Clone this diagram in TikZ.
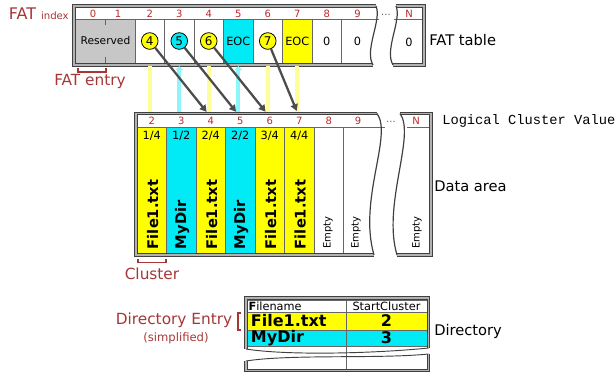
\documentclass[tikz,border=0pt]{standalone}
\usepackage{fontspec}
\setmainfont{DejaVu Sans}
\newfontfamily\monofont{Liberation Mono}
\usetikzlibrary{arrows.meta, positioning, calc}
\definecolor{fatYellow}{RGB}{255,255,0}
\definecolor{fatCyan}{RGB}{0,235,245}
\definecolor{lblRed}{RGB}{165,55,55}
\definecolor{idxRed}{RGB}{190,40,40}
\tikzset{
    >=Stealth,
    % Frames
    frame/.style={draw=black!75, line width=0.55pt, double=black!30, double distance=1.4pt},
    wavy/.style={draw=black!75, line width=0.9pt},
    sep/.style={draw=black!60, line width=0.5pt},
    % Cells
    fatres/.style={rectangle, inner sep=0pt, fill=black!22, minimum width=44.25pt, minimum height=33pt,
                   font=\fontsize{8}{8}\selectfont},
    fatcell/.style={rectangle, inner sep=0pt, minimum width=22.1pt, minimum height=33pt, sep},
    datacell/.style={rectangle, inner sep=0pt, minimum width=22.1pt, minimum height=94.5pt, sep},
    dirname/.style={rectangle, inner sep=0pt, minimum width=74.25pt, sep},
    dirstart/.style={rectangle, inner sep=0pt, minimum width=60.75pt, sep},
    hdr/.style={inner sep=0pt, text=idxRed, font=\fontsize{7.5}{7.5}\selectfont},
    ptr/.style={circle, draw=black, line width=0.6pt, inner sep=0pt, minimum size=12.5pt,
                font=\fontsize{9}{9}\selectfont},
    val/.style={inner sep=0pt, font=\fontsize{8.5}{8.5}\selectfont},
    frac/.style={inner sep=0pt, font=\fontsize{8.5}{8.5}\selectfont},
    ftext/.style={rotate=90, anchor=west, inner sep=0pt, font=\bfseries\fontsize{11}{11}\selectfont},
    etext/.style={rotate=90, anchor=west, inner sep=0pt, font=\fontsize{7.5}{7.5}\selectfont},
    dtext/.style={inner sep=0pt, font=\bfseries\fontsize{12}{12}\selectfont},
    % Labels
    lbl/.style={inner sep=0pt, font=\fontsize{11}{11}\selectfont},
    redlbl/.style={inner sep=0pt, text=lblRed, font=\fontsize{11.5}{11.5}\selectfont},
    brk/.style={draw=lblRed, line width=0.8pt},
    % Flow
    link/.style={draw=black!70, line width=1.7pt, -{Triangle[length=5pt,width=5.5pt]}, shorten >=5pt},
    trace/.style={line width=3pt, shorten <=2pt, shorten >=3.5pt}
}

\begin{document}
\begin{tikzpicture}[x=0.75pt, y=-0.75pt]
\useasboundingbox (0,0) rectangle (616,378);

% FAT table cells
\node[fatres] (res) at (105.5,41) {Reserved};
\draw[sep] (res.north) -- ++(0,6);
\draw[sep] (res.south) -- ++(0,-6);
\foreach \i/\cc in {2/white,3/white,4/white,5/fatCyan,6/white,7/fatYellow,8/white}
  \node[fatcell, fill=\cc] (fb\i) at ({149.75+29.5*(\i-2)},41) {};

% FAT header
\node[hdr] (fh0) at (93,13.5) {0};
\node[hdr] (fh1) at (118,13.5) {1};
\foreach \i in {2,...,8}
  \node[hdr] (fh\i) at (fb\i |- 0,13.5) {\i};
\node[hdr] (fh9) at (357.5,13.5) {9};
\node[hdr, text=black!60] (fdots) at (386,15) {...};
\node[hdr] (fhN) at (409,13.5) {N};
\draw[sep] (76,19) -- (379,19);
\draw[sep] (394,19) -- (422,19);

% FAT entries
\foreach \i/\n/\cc in {2/4/fatYellow,3/5/fatCyan,4/6/fatYellow,6/7/fatYellow}
  \node[ptr, fill=\cc] (c\n) at (fb\i) {\n};
\node[val] (eoc5) at (fb5) {EOC};
\node[val] (eoc7) at (fb7) {EOC};
\node[val] (z8) at (fb8) {0};
\node[val] (z9) at (357.5,41) {0};
\node[val] (zN) at (409,42) {0};

% FAT frame
\draw[frame] (376,6) -- (74,6) -- (74,65) -- (373,65);
\draw[wavy] (373,65) .. controls (364,50) and (382,20) .. (376,6);
\draw[frame] (396,6) -- (424,6) -- (424,65) -- (393,65);
\draw[wavy] (393,65) .. controls (384,50) and (402,20) .. (396,6);

% Data area cells
\foreach \i/\cc in {2/fatYellow,3/fatCyan,4/fatYellow,5/fatCyan,6/fatYellow,7/fatYellow,8/white}
  \node[datacell, fill=\cc] (db\i) at ({151.75+29.5*(\i-2)},190) {};

% Data header
\foreach \i in {2,...,8}
  \node[hdr] (dh\i) at (db\i |- 0,121) {\i};
\node[hdr] (dh9) at (358,121) {9};
\node[hdr, text=black!60] (ddots) at (391,122) {...};
\node[hdr] (dhN) at (416,121) {N};
\draw[sep] (138,127) -- (385,127);
\draw[sep] (407,127) -- (429,127);

% Data contents
\foreach \i/\f in {2/{1/4},3/{1/2},4/{2/4},5/{2/2},6/{3/4},7/{4/4}}
  \node[frac] (fr\i) at (db\i |- 0,136) {\f};
\foreach \i in {2,4,6,7}
  \node[ftext] (ft\i) at ($(db\i.south)+(1,-4)$) {File1.txt};
\foreach \i in {3,5}
  \node[ftext] (ft\i) at ($(db\i.south)+(1,-4)$) {MyDir};
\node[etext] (e8) at (328,249) {Empty};
\node[etext] (e9) at (356,249) {Empty};
\node[etext] (eN) at (417,249) {Empty};

% Data frame
\draw[frame] (377,113.5) -- (136,113.5) -- (136,255) -- (374,255);
\draw[wavy] (374,255) .. controls (358,200) and (393,135) .. (377,113.5);
\draw[frame] (400,113.5) -- (431,113.5) -- (431,255) -- (397,255);
\draw[wavy] (397,255) .. controls (382,205) and (416,135) .. (400,113.5);

% Cluster traces and pointers
\foreach \i/\cc in {2/fatYellow,4/fatYellow,6/fatYellow,7/fatYellow}
  \draw[trace, draw=\cc!40] (fb\i.south) -- (fb\i.south |- dh\i.north);
\foreach \i in {3,5}
  \draw[trace, draw=fatCyan!45, {Triangle[length=3pt,width=5.5pt]}-] (fb\i.south) -- (fb\i.south |- dh\i.north);
\foreach \n in {4,5,6,7}
  \draw[link] (c\n) -- (dh\n.north);

% Directory table
\node[dirname, fill=white, minimum height=9pt] (hname) at (296.5,306) {};
\node[dirstart, fill=white, minimum height=9pt] (hstart) at (386.5,306) {};
\node[dirname, fill=fatYellow, minimum height=13.5pt] (name1) at (296.5,321) {};
\node[dirstart, fill=fatYellow, minimum height=13.5pt] (start1) at (386.5,321) {};
\node[dirname, fill=fatCyan, minimum height=12pt] (name2) at (296.5,338) {};
\node[dirstart, fill=fatCyan, minimum height=12pt] (start2) at (386.5,338) {};
\node[inner sep=0pt, anchor=west, font=\fontsize{8.5}{8.5}\selectfont] (tname) at ([xshift=1.2pt]hname.west) {\textbf{F}ilename};
\node[inner sep=0pt, font=\fontsize{8.5}{8.5}\selectfont] (tstart) at (hstart) {StartCluster};
\node[dtext, anchor=west] (n1) at ([xshift=3pt]name1.west) {File1.txt};
\node[dtext, anchor=west] (n2) at ([xshift=3pt]name2.west) {MyDir};
\node[dtext] (s1) at (start1) {2};
\node[dtext] (s2) at (start2) {3};
\draw[sep] (346,344) -- (346,369);
\draw[frame] (246,349) -- (246,298) -- (428.5,298) -- (428.5,348);
\draw[wavy, line width=0.7pt] (246,349) .. controls (290,356) and (380,353) .. (428.5,348);
\draw[wavy, line width=0.7pt] (246,361) .. controls (290,354) and (380,359) .. (428.5,354);
\draw[frame] (246,361) -- (246,370.5) -- (428.5,370.5) -- (428.5,354);

% Labels
\node[redlbl, anchor=east] (fatidx) at (69,14) {{\fontsize{12}{12}\selectfont FAT} {\fontsize{7.6}{8}\selectfont index}};
\node[lbl, anchor=west] (fattab) at (429,40) {FAT table};
\node[inner sep=0pt, anchor=west, font=\monofont\fontsize{10.3}{10.3}\selectfont] (lcv) at (442,121) {Logical Cluster Value};
\node[lbl, anchor=west] (darea) at (434,186) {Data area};
\node[lbl, anchor=west] (dirlbl) at (434,331) {Directory};
\draw[brk] (78,68) -- (78,72) -- (106,72) -- (106,68);
\node[redlbl] (fatent) at (90,82) {FAT entry};
\draw[brk] (138,259) -- (138,262.5) -- (166,262.5) -- (166,259);
\node[redlbl] (clu) at (152,274) {Cluster};
\draw[brk] (241,313) -- (238,313) -- (238,330) -- (241,330);
\node[redlbl] (dirent) at (174,320) {Directory Entry};
\node[inner sep=0pt, text=lblRed, font=\fontsize{8.7}{8.7}\selectfont] (simpl) at (176,338) {(simplified)};

\end{tikzpicture}
\end{document}
